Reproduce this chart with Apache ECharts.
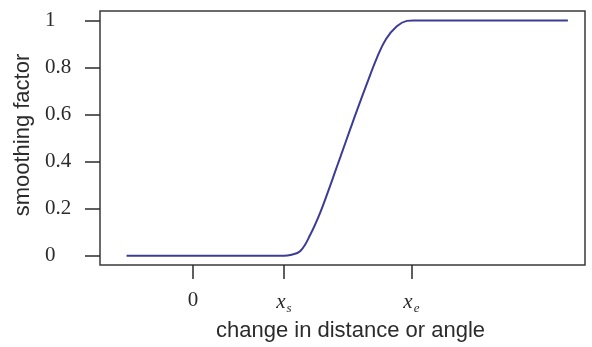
<!DOCTYPE html>
<html>
<head>
<meta charset="utf-8">
<script src="https://cdn.jsdelivr.net/npm/echarts@6/dist/echarts.min.js"></script>
<style>
  html, body { margin: 0; padding: 0; background: #fff; }
  #main { width: 592px; height: 347px; }
</style>
</head>
<body>
<div id="main"></div>
<script>
// values (x in units where 0 = origin, 1 = x_s)
var xVals = [-0.73, 1.00, 1.07, 1.18, 1.29, 1.40, 1.51, 1.56, 1.62, 1.73, 1.79, 1.91, 2.02, 2.12, 2.24, 2.35, 2.42, 4.12];
var yVals = [0, 0, 0.003, 0.02, 0.09, 0.185, 0.30, 0.355, 0.42, 0.54, 0.605, 0.73, 0.84, 0.92, 0.975, 0.998, 1, 1];
var xTicks = [0, 1, 2.4];
var xTickLabels = ['0', '{it|x}{sub|s}', '{it|x}{sub|e}'];
var yTicks = [0, 0.2, 0.4, 0.6, 0.8, 1];

var ink = '#2b2b2b';
var serif = '"Liberation Serif", "DejaVu Serif", serif';
var sans = '"Liberation Sans", Arial, sans-serif';

var points = xVals.map(function (x, i) { return [x, yVals[i]]; });

var chart = echarts.init(document.getElementById('main'));
chart.setOption({
    animation: false,
    grid: {
        left: 100, right: 7, top: 11, bottom: 76,
        show: true,
        borderColor: '#3a3a3a',
        borderWidth: 1.5
    },
    xAxis: {
        type: 'value',
        min: -1.022,
        max: 4.308,
        splitLine: { show: false },
        axisLine: { show: false, onZero: false },
        axisTick: {
            show: true,
            customValues: xTicks,
            length: 14,
            lineStyle: { color: ink, width: 1.5 }
        },
        axisLabel: {
            customValues: xTicks,
            margin: 25,
            color: ink,
            fontFamily: serif,
            fontSize: 21,
            formatter: function (v) {
                var i = xTicks.indexOf(v);
                return i >= 0 ? xTickLabels[i] : '';
            },
            rich: {
                it: { fontFamily: serif, fontStyle: 'italic', fontSize: 21, color: ink },
                sub: { fontFamily: serif, fontStyle: 'italic', fontSize: 13, color: ink, padding: [12, 0, 0, 1] }
            }
        },
        name: 'change in distance or angle',
        nameLocation: 'middle',
        nameGap: 50,
        nameTextStyle: { fontFamily: sans, fontSize: 22, color: ink, padding: [0, 0, 0, 16] }
    },
    yAxis: {
        type: 'value',
        min: -0.04,
        max: 1.04,
        splitLine: { show: false },
        axisLine: { show: false, onZero: false },
        axisTick: {
            show: true,
            customValues: yTicks,
            length: 15,
            lineStyle: { color: ink, width: 1.5 }
        },
        axisLabel: {
            customValues: yTicks,
            margin: 55,
            align: 'left',
            color: ink,
            fontFamily: serif,
            fontSize: 21,
            formatter: function (v) { return String(v); }
        },
        name: 'smoothing factor',
        nameLocation: 'middle',
        nameGap: 62,
        nameTextStyle: { fontFamily: sans, fontSize: 22, color: ink, padding: [0, 0, 0, 6] }
    },
    series: [{
        type: 'line',
        data: points,
        smooth: 0.4,
        showSymbol: false,
        lineStyle: { color: '#3c3c94', width: 2 }
    }]
});
</script>
</body>
</html>
